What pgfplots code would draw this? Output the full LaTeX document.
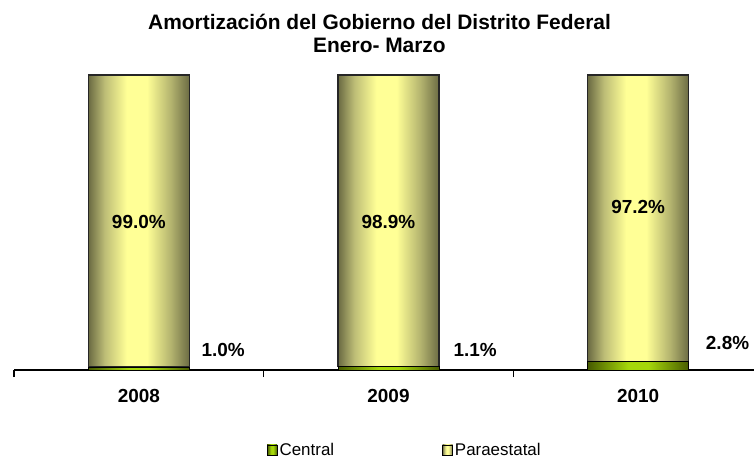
\documentclass[border=0pt]{standalone}
\usepackage{pgfplots}
\pgfplotsset{compat=1.18}
\usepackage{fontspec}
\setmainfont{Liberation Sans}

% bar gradients (dark edges, bright middle)
\definecolor{p0}{RGB}{106,106,66}
\definecolor{p1}{RGB}{188,188,118}
\definecolor{p2}{RGB}{255,255,150}
\definecolor{p3}{RGB}{178,178,110}
\definecolor{p4}{RGB}{108,108,68}
\pgfdeclarehorizontalshading{parashade}{100bp}{color(0bp)=(p0); color(25bp)=(p0); color(33bp)=(p1); color(44bp)=(p2); color(54bp)=(p2); color(66bp)=(p3); color(75bp)=(p4); color(100bp)=(p4)}
\definecolor{c0}{RGB}{70,90,0}
\definecolor{c2}{RGB}{165,215,10}
\definecolor{c4}{RGB}{72,92,0}
\pgfdeclarehorizontalshading{centshade}{100bp}{color(0bp)=(c0); color(25bp)=(c0); color(45bp)=(c2); color(55bp)=(c2); color(75bp)=(c4); color(100bp)=(c4)}
\definecolor{legCentral}{RGB}{140,190,0}
\definecolor{legPara}{RGB}{245,245,150}
\tikzset{lbl/.style={font=\bfseries\fontsize{19}{21}\selectfont}}

% one axis per year, so that each bar is its own path and gets its own gradient
\pgfplotsset{
  frame/.style={
    at={(14bp,89bp)}, anchor=south west,
    scale only axis, width=740bp, height=295bp,
    xmin=-0.5, xmax=2.464, ymin=0, ymax=100,
    clip=false, ybar stacked, bar width=101bp},
  central/.style={shade, shading=centshade, draw=black, line width=0.8bp},
  para/.style={shade, shading=parashade, draw=black!85, line width=1.2bp},
}

\begin{document}
\begin{tikzpicture}
\useasboundingbox (0,0) rectangle (754bp,459bp);
\begin{axis}[frame,
  axis x line*=bottom, axis y line=none,
  x axis line style={line width=1.6bp, black},
  ytick=\empty,
  xtick={-0.5,0.5,1.5}, xticklabels={},
  tick align=outside, major tick length=7bp,
  xtick style={line width=1.6bp, black},
  extra x ticks={0,1,2}, extra x tick labels={2008,2009,2010},
  extra x tick style={major tick length=0pt,
    xticklabel style={font=\bfseries\fontsize{19}{21}\selectfont, yshift=-16bp}},
  legend style={at={(0.528,-0.271)}, anchor=center, draw=none, fill=none,
    legend columns=2, font=\fontsize{17}{20}\selectfont,
    /tikz/every even column/.append style={column sep=106bp}},
  legend cell align=left,
]
\addplot[central,
  legend image code/.code={\draw[fill=legCentral, draw=black, line width=0.8bp] (-4bp,-5bp) rectangle (6bp,5bp);}]
  coordinates {(0,1.0)};
\addlegendentry{Central}
\addplot[para,
  legend image code/.code={\draw[fill=legPara, draw=black, line width=0.8bp] (-4bp,-5bp) rectangle (6bp,5bp);}]
  coordinates {(0,99.0)};
\addlegendentry{Paraestatal}
\coordinate (p08) at (axis cs:0,50.2);
\coordinate (c08) at (axis cs:0.338,6.8);
\end{axis}

\begin{axis}[frame, hide axis]
\addplot[central] coordinates {(1,1.1)};
\addplot[para] coordinates {(1,98.9)};
\coordinate (p09) at (axis cs:1,50.2);
\coordinate (c09) at (axis cs:1.347,6.8);
\end{axis}

\begin{axis}[frame, hide axis]
\addplot[central] coordinates {(2,2.8)};
\addplot[para] coordinates {(2,97.2)};
\coordinate (p10) at (axis cs:2,55.3);
\coordinate (c10) at (axis cs:2.358,9.2);
\end{axis}

\node[lbl] at (p08) {99.0\%};
\node[lbl] at (p09) {98.9\%};
\node[lbl] at (p10) {97.2\%};
\node[lbl] at (c08) {1.0\%};
\node[lbl] at (c09) {1.1\%};
\node[lbl] at (c10) {2.8\%};
\node[font=\bfseries\fontsize{21}{23.5}\selectfont, align=center]
  at (379.5bp,425.5bp) {Amortización del Gobierno del Distrito Federal\\Enero- Marzo};
\end{tikzpicture}
\end{document}
